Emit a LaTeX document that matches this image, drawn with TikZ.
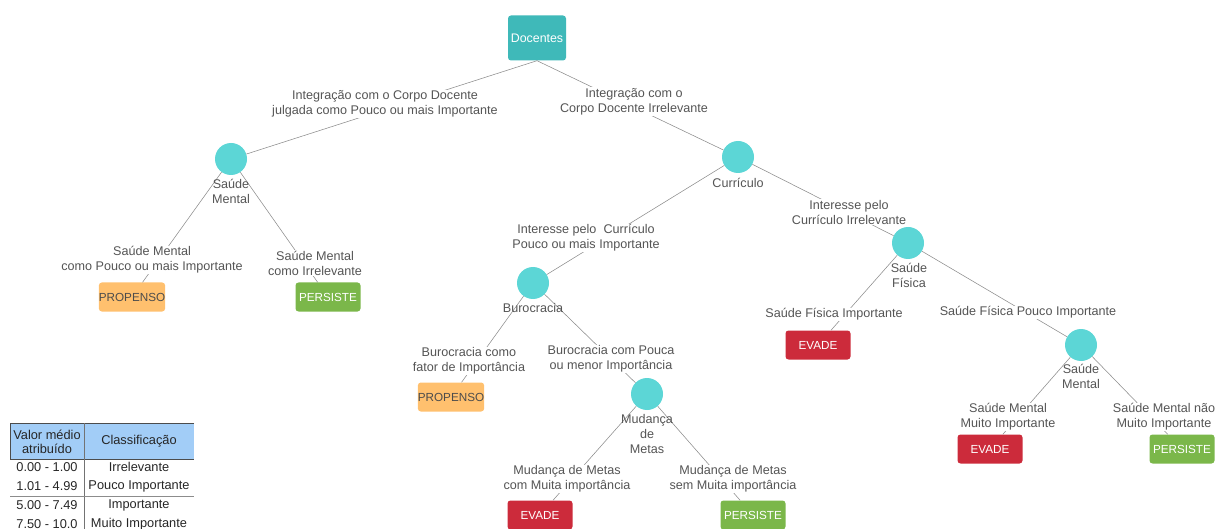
\documentclass[tikz,border=0pt]{standalone}
\usepackage{fontspec}
\setmainfont{Liberation Sans}
\definecolor{txtgray}{HTML}{555555}
\definecolor{linegray}{HTML}{8C8C8C}
\definecolor{tealbox}{HTML}{3FB9B9}
\definecolor{tealdot}{HTML}{5CD6D6}
\definecolor{evadered}{HTML}{CC2B3B}
\definecolor{persgreen}{HTML}{7BB74A}
\definecolor{proporange}{HTML}{FFC06E}
\definecolor{headblue}{HTML}{A2CDF7}
\tikzset{
  rootbox/.style={draw=none, fill=tealbox, rounded corners=3pt, minimum width=58pt, minimum height=45pt, text=white, font=\fontsize{12.4}{14}\selectfont, inner sep=0pt},
  dot/.style={circle, fill=tealdot, draw=none, minimum size=32pt, inner sep=0pt},
  leaf/.style={rounded corners=3pt, minimum width=65pt, minimum height=29pt, inner sep=0pt, font=\fontsize{11.7}{13}\selectfont},
  evade/.style={leaf, fill=evadered, text=white},
  persiste/.style={leaf, fill=persgreen, text=white},
  propenso/.style={leaf, fill=proporange, text=txtgray!90!black},
  branch/.style={fill=white, text=txtgray, align=center, inner sep=1pt, font=\fontsize{12.6}{15}\selectfont},
  dotlabel/.style={text=txtgray, align=center, inner sep=0pt, font=\fontsize{12.6}{15}\selectfont},
  edge/.style={draw=linegray, line width=0.55pt},
  cell/.style={text=black!85, align=center, inner sep=0pt, font=\fontsize{12.8}{14}\selectfont},
}
\begin{document}
\begin{tikzpicture}[x=1pt,y=-1pt]
\useasboundingbox (0,0) rectangle (1215,529);

% decision nodes
\node[rootbox] (docentes) at (537,38) {Docentes};
\node[dot] (sm1)  at (231,159) {};
\node[dot] (curr) at (738,157) {};
\node[dot] (buro) at (533,283) {};
\node[dot] (sf)   at (908,243) {};
\node[dot] (sm2)  at (1081,345) {};
\node[dot] (mm)   at (647,394) {};

% outcomes
\node[propenso] (p1) at (132,297) {PROPENSO};
\node[persiste] (s1) at (328,297) {PERSISTE};
\node[propenso] (p2) at (451,397) {PROPENSO};
\node[evade]    (e1) at (540,515) {EVADE};
\node[persiste] (s2) at (753,515) {PERSISTE};
\node[evade]    (e2) at (818,345) {EVADE};
\node[evade]    (e3) at (990,449) {EVADE};
\node[persiste] (s3) at (1182,449) {PERSISTE};

% connectors
\draw[edge] (docentes.south) -- (sm1);
\draw[edge] (docentes.south) -- (curr);
\draw[edge] (sm1) -- (p1);
\draw[edge] (sm1) -- (s1);
\draw[edge] (curr) -- (buro);
\draw[edge] (curr) -- (sf);
\draw[edge] (buro) -- (p2);
\draw[edge] (buro) -- (mm);
\draw[edge] (mm) -- (e1);
\draw[edge] (mm) -- (s2);
\draw[edge] (sf) -- (e2);
\draw[edge] (sf) -- (sm2);
\draw[edge] (sm2) -- (e3);
\draw[edge] (sm2) -- (s3);

% branch labels
\node[branch] (b1)  at (385,104) {Integração com o Corpo Docente\\julgada como Pouco ou mais Importante};
\node[branch] (b2)  at (634,101.5) {Integração com o\\Corpo Docente Irrelevante};
\node[branch] (b3)  at (152,260) {Saúde Mental\\como Pouco ou mais Importante};
\node[branch] (b4)  at (315,263) {Saúde Mental\\como Irrelevante};
\node[branch] (b5)  at (586,238) {Interesse pelo\ \ Currículo\\Pouco ou mais Importante};
\node[branch] (b6)  at (849,212) {Interesse pelo\\Currículo Irrelevante};
\node[branch] (b7)  at (469,361) {Burocracia como\\fator de Importância};
\node[branch] (b8)  at (611,359) {Burocracia com Pouca\\ou menor Importância};
\node[branch] (b9)  at (834,314.5) {Saúde Física Importante};
\node[branch] (b10) at (1028,312.5) {Saúde Física Pouco Importante};
\node[branch] (b11) at (567,479) {Mudança de Metas\\com Muita importância};
\node[branch] (b12) at (733,479) {Mudança de Metas\\sem Muita importância};
\node[branch] (b13) at (1008,417) {Saúde Mental\\Muito Importante};
\node[branch] (b14) at (1164,417) {Saúde Mental não\\Muito Importante};

% names under the decision dots
\node[dotlabel] (t1) at (231,191) {Saúde\\Mental};
\node[dotlabel] (t2) at (738,182.5) {Currículo};
\node[dotlabel] (t3) at (533,307.5) {Burocracia};
\node[dotlabel] (t4) at (909,275) {Saúde\\Física};
\node[dotlabel] (t5) at (1081,376.5) {Saúde\\Mental};
\node[dotlabel] (t6) at (647,433.5) {Mudança\\de\\Metas};

% legend table
\fill[headblue] (10,423) rectangle (194,459);
\draw[black!70, line width=0.7pt] (194,423) -- (10,423) -- (10,459) -- (194,459);
\draw[black!55, line width=0.6pt] (84,423) -- (84,529);
\draw[black!45, line width=0.5pt] (10,496.5) -- (194,496.5);
\node[cell] (h1) at (47,441.5) {Valor médio\\atribuído};
\node[cell] (h2) at (139,441.5) {Classificação};
\node[cell] (r1a) at (47,467) {0.00 - 1.00};
\node[cell] (r1b) at (139,467) {Irrelevante};
\node[cell] (r2a) at (47,486) {1.01 - 4.99};
\node[cell] (r2b) at (139,486) {Pouco Importante};
\node[cell] (r3a) at (47,505) {5.00 - 7.49};
\node[cell] (r3b) at (139,505) {Importante};
\node[cell] (r4a) at (47,524) {7.50 - 10.0};
\node[cell] (r4b) at (139,524) {Muito Importante};
\end{tikzpicture}
\end{document}
